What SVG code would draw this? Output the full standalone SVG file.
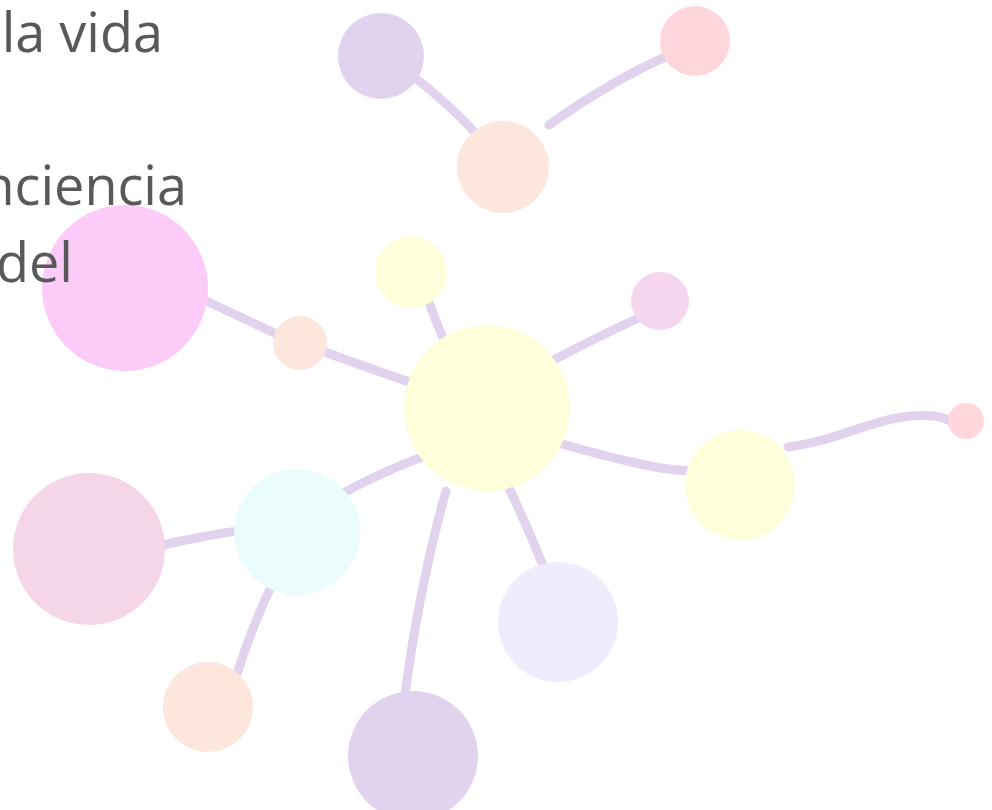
<svg xmlns="http://www.w3.org/2000/svg" width="992" height="810" viewBox="0 0 992 810">
<style>
.c{fill:none;stroke:#E1D3EE;stroke-width:9;stroke-linecap:round}
.t{font-family:"Open Sans","Noto Sans",sans-serif;font-size:54px;fill:#595959;text-anchor:end}
</style>
<rect width="992" height="810" fill="#FFFFFF"/>
<g id="connectors">
<path class="c" d="M 405 70 Q 448 102 482 140"/>
<path class="c" d="M 549 125 Q 612 80 672 54"/>
<path class="c" d="M 200 298 L 285 338"/>
<path class="c" d="M 320 350 Q 340 358 415 384"/>
<path class="c" d="M 428 300 Q 436 322 446 345"/>
<path class="c" d="M 550 362 Q 595 338 645 315"/>
<path class="c" d="M 555 442 Q 600 455 640 464 Q 670 471 700 471"/>
<path class="c" d="M 788 447 C 840 440 870 420 910 416 C 935 414 948 418 955 424"/>
<path class="c" d="M 505 480 Q 525 520 548 578"/>
<path class="c" d="M 425 456 Q 385 470 330 500"/>
<path class="c" d="M 245 530 Q 205 535 150 548"/>
<path class="c" d="M 272 585 Q 250 630 232 690"/>
<path class="c" d="M 446 491 Q 418 590 403 710"/>
</g>
<g id="n1"><circle cx="381" cy="56" r="43" fill="#E1D3EE"/></g>
<g id="n2"><circle cx="503" cy="167" r="46" fill="#FDE6DB"/></g>
<g id="n3"><circle cx="695" cy="41" r="35" fill="#FFD6DC"/></g>
<g id="n4"><circle cx="125" cy="288" r="83" fill="#FDCBF8"/></g>
<g id="n5"><circle cx="300" cy="343" r="27" fill="#FDE6DB"/></g>
<g id="n6"><circle cx="411" cy="272" r="36" fill="#FFFEDB"/></g>
<g id="n7"><circle cx="660" cy="301" r="29" fill="#F5D6EE"/></g>
<g id="n8"><circle cx="487" cy="408" r="83" fill="#FFFEDB"/></g>
<g id="n9"><circle cx="740" cy="485" r="55" fill="#FFFEDB"/></g>
<g id="n10"><circle cx="966" cy="421" r="18" fill="#FFD6DC"/></g>
<g id="n11"><circle cx="558" cy="622" r="60" fill="#EFEDFD"/></g>
<g id="n12"><circle cx="89" cy="549" r="76" fill="#F5D6E9"/></g>
<g id="n13"><circle cx="297" cy="532" r="63" fill="#EAFDFC"/></g>
<g id="n14"><circle cx="208" cy="707" r="45" fill="#FDE6DB"/></g>
<g id="n15"><circle cx="413" cy="756" r="65" fill="#E1D3EE"/></g>
<g id="labels">
<text class="t" x="163" y="52">la vida</text>
<text class="t" x="187" y="205">nciencia</text>
<text class="t" x="73" y="282">del</text>
</g>
</svg>
